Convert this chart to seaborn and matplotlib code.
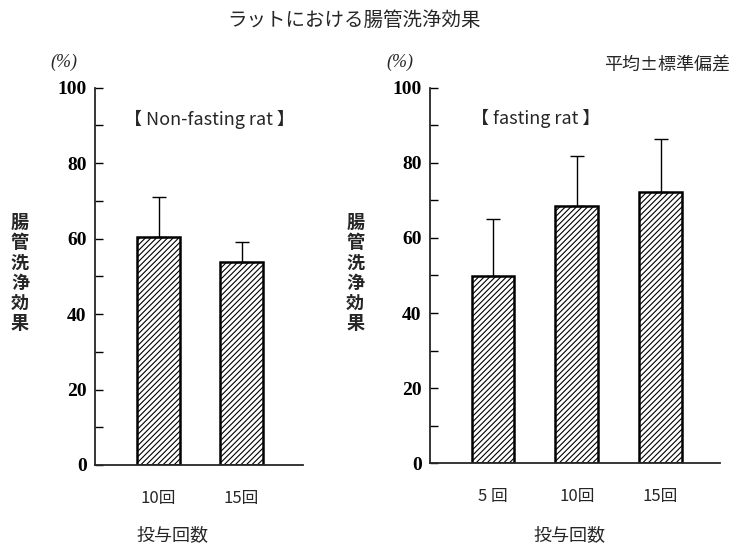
import numpy as np
import pandas as pd
import matplotlib
matplotlib.use("Agg")
import matplotlib.pyplot as plt
import seaborn as sns

# ---- data
left_cats = ["10回", "15回"]
left_mean = [60.5, 53.7]
left_sd = [10.5, 5.5]

right_cats = ["5 回", "10回", "15回"]
right_mean = [49.9, 68.6, 72.3]
right_sd = [15.1, 13.3, 14.0]

sns.set_theme(style="ticks")
plt.rcParams['font.family'] = ['Noto Sans CJK JP', 'DejaVu Sans']
plt.rcParams['hatch.linewidth'] = 0.8

JP = ['Noto Sans CJK JP', 'DejaVu Sans']
NUM = ['Liberation Serif', 'DejaVu Serif']

fig = plt.figure(figsize=(7.4, 5.46), dpi=100)
ax_l = fig.add_axes([0.1284, 0.1484, 0.2811, 0.6910])
ax_r = fig.add_axes([0.5811, 0.1515, 0.3919, 0.6879])


def draw_panel(ax, cats, mean, sd, xlim, label, width):
    df = pd.DataFrame({"cat": cats, "val": mean})
    sns.barplot(data=df, x="cat", y="val", ax=ax, color="white",
                edgecolor="black", linewidth=1.8, hatch="//////",
                width=width, errorbar=None)
    xs = np.arange(len(cats))
    ax.errorbar(xs, mean, yerr=[np.zeros(len(sd)), sd], fmt="none",
                ecolor="black", elinewidth=1.0, capsize=5, capthick=1.0)
    ax.set_xlim(*xlim)
    ax.set_ylim(0, 100)
    ax.set_yticks(np.arange(0, 101, 20))
    ax.set_yticks(np.arange(10, 100, 20), minor=True)
    ax.tick_params(axis="y", which="both", direction="in", length=6,
                   width=1.0, colors="black", pad=6)
    ax.tick_params(axis="x", length=0, pad=18)
    for t in ax.get_yticklabels():
        t.set_fontfamily(NUM)
        t.set_fontweight("bold")
        t.set_fontsize(14)
    for t in ax.get_xticklabels():
        t.set_fontfamily(JP)
        t.set_fontsize(12)
    ax.set_xlabel("")
    ax.set_ylabel("")
    sns.despine(ax=ax)
    ax.spines["left"].set_linewidth(1.3)
    ax.spines["bottom"].set_linewidth(1.3)
    ax.set_facecolor("white")
    ax.text(0.14, 0.917, label, transform=ax.transAxes, fontsize=13,
            ha="left", va="center", family=JP)


draw_panel(ax_l, left_cats, left_mean, left_sd, (-0.765, 1.74),
           "【 Non-fasting rat 】", 0.52)
draw_panel(ax_r, right_cats, right_mean, right_sd, (-0.75, 2.71),
           "【 fasting rat 】", 0.51)

# titles and labels
fig.text(0.478, 0.963, "ラットにおける腸管洗浄効果", fontsize=14,
         ha="center", va="center", family=JP)
fig.text(0.902, 0.881, "平均±標準偏差", fontsize=13,
         ha="center", va="center", family=JP)
fig.text(0.086, 0.886, "(%)", fontsize=13, ha="center", va="center",
         family=NUM, style="italic")
fig.text(0.540, 0.886, "(%)", fontsize=13, ha="center", va="center",
         family=NUM, style="italic")
ylab = "\n".join("腸管洗浄効果")
fig.text(0.027, 0.50, ylab, fontsize=13, ha="center", va="center",
         family=JP, linespacing=1.08, fontweight="bold")
fig.text(0.480, 0.50, ylab, fontsize=13, ha="center", va="center",
         family=JP, linespacing=1.08, fontweight="bold")
fig.text(0.233, 0.02, "投与回数", fontsize=13, ha="center", va="center",
         family=JP)
fig.text(0.770, 0.02, "投与回数", fontsize=13, ha="center", va="center",
         family=JP)

fig.savefig("out.png", dpi=100, facecolor="white")
